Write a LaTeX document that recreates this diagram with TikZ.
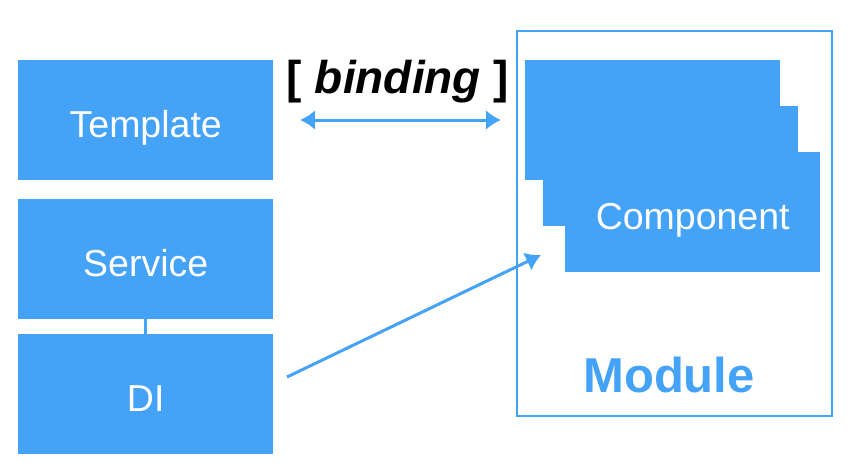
\documentclass[tikz,border=0pt]{standalone}
\usepackage{fontspec}
\setmainfont{Liberation Sans}
\usetikzlibrary{arrows.meta}
\definecolor{ngblue}{RGB}{68,162,247}
\begin{document}
\begin{tikzpicture}[x=1pt,y=-1pt,
  blockbox/.style={fill=ngblue, draw=none, minimum width=255pt, minimum height=120pt,
    inner sep=0pt, text=white, font=\fontsize{37.5}{40}\selectfont, anchor=north west,
    text height=34pt, text depth=0pt},
  modframe/.style={draw=ngblue, line width=2pt, anchor=north west, inner sep=0pt,
    minimum width=315pt, minimum height=385pt},
  link/.style={draw=ngblue, line width=3pt},
  arr/.style={draw=ngblue, line width=3pt, -{Latex[length=15pt,width=20pt]}},
  darr/.style={draw=ngblue, line width=3pt, {Latex[length=15pt,width=20pt]}-{Latex[length=15pt,width=20pt]}}
]
\useasboundingbox (0,0) rectangle (848,466);
\node[blockbox] (tpl) at (18,60) {Template};
\node[blockbox] (svc) at (18,199) {Service};
\node[blockbox] (di) at (18,334) {DI};
\draw[link] (svc.south) -- (di.north);

\node[modframe] (mod) at (516,30) {};
\node[text=ngblue, font=\fontsize{49}{52}\selectfont\bfseries, anchor=base] (modlbl) at (669,392) {Module};

\node[blockbox] (c1) at (525,60) {};
\node[blockbox] (c2) at (543,106) {};
\node[blockbox] (c3) at (565,152) {Component};

\node[font=\fontsize{46}{50}\selectfont\bfseries, anchor=base] (bind) at (398,93) {[ \textit{binding} ]};
\coordinate (bl) at (300,120);
\coordinate (br) at (501,120);
\draw[darr] (bl) -- (br);

\coordinate (dstart) at (287,377);
\coordinate (dend) at (541,255);
\draw[arr] (dstart) -- (dend);
\end{tikzpicture}
\end{document}
